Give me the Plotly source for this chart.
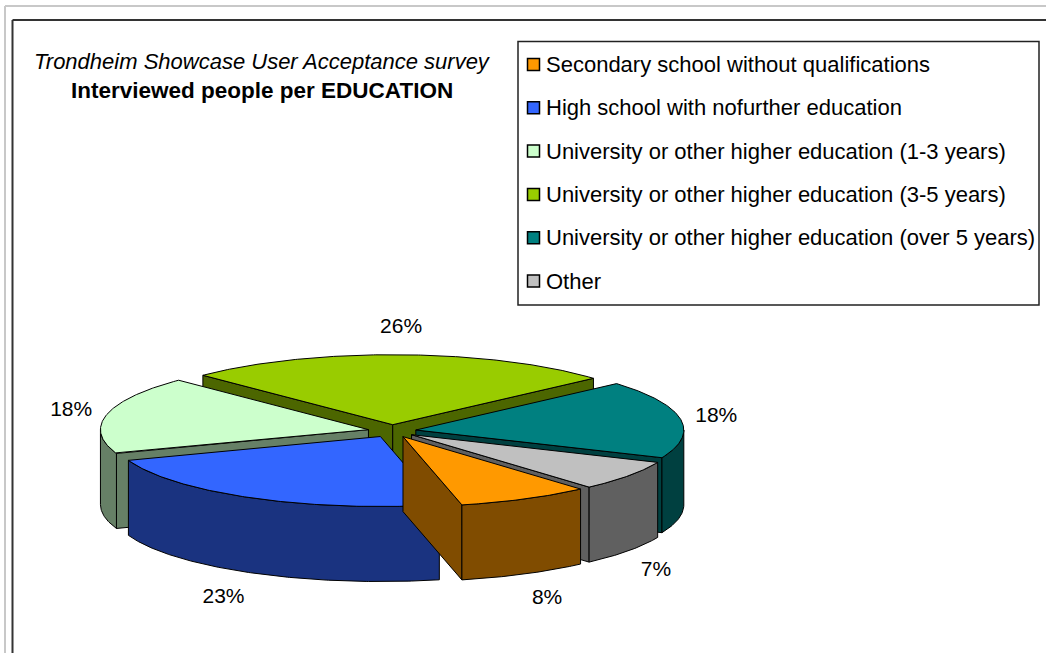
import numpy as np
import plotly.graph_objects as go

# ---- data -------------------------------------------------------------
categories = [
    "Secondary school without qualifications",
    "High school with nofurther education",
    "University or other higher education (1-3 years)",
    "University or other higher education (3-5 years)",
    "University or other higher education (over 5 years)",
    "Other",
]
shares = [8, 23, 18, 26, 18, 7]  # percent of interviewed people

title_line1 = "Trondheim Showcase User Acceptance survey"
title_line2 = "Interviewed people per EDUCATION"

# ---- styling ----------------------------------------------------------
top_colors = ["#FF9900", "#3366FF", "#CCFFCC", "#99CC00", "#008080", "#C0C0C0"]
side_colors = ["#804C00", "#1A3380", "#668066", "#4C6600", "#004040", "#606060"]

W, H = 1046, 653
FONT = "Liberation Sans, Arial, sans-serif"

# tilted pie geometry (pixel space)
CX, CY = 392, 431
RX, RY = 268, 70
DEPTH = 75
EXPLODE = 0.09
START = 138.5  # first slice angle, degrees clockwise from 12 o'clock


def rim(theta, ox, oy, dz=0.0):
    t = np.radians(theta)
    return CX + ox + RX * np.sin(t), CY + oy - RY * np.cos(t) + dz


def poly_trace(xs, ys, fill):
    return go.Scatter(
        x=list(xs), y=list(ys), mode="lines", fill="toself",
        fillcolor=fill, line=dict(color="#000000", width=1),
        hoverinfo="skip", showlegend=False,
    )


slices = []
acc = 0.0
for i, v in enumerate(shares):
    a = START + acc * 3.6
    b = a + v * 3.6
    acc += v
    m = (a + b) / 2
    ox = EXPLODE * RX * np.sin(np.radians(m))
    oy = -EXPLODE * RY * np.cos(np.radians(m))
    slices.append(dict(i=i, a=a, b=b, m=m, ox=ox, oy=oy))

fig = go.Figure()

# draw from the back of the pie to the front
for s in sorted(slices, key=lambda s: -np.cos(np.radians(s["m"]))):
    i, a, b, ox, oy = s["i"], s["a"], s["b"], s["ox"], s["oy"]
    cx0, cy0 = CX + ox, CY + oy

    # radial walls facing the viewer
    for ang, visible in ((a, np.sin(np.radians(a)) < 0), (b, np.sin(np.radians(b)) > 0)):
        if visible:
            px, py = rim(ang, ox, oy)
            fig.add_trace(poly_trace(
                [cx0, px, px, cx0, cx0],
                [cy0, py, py + DEPTH, cy0 + DEPTH, cy0],
                side_colors[i]))

    # outer curved wall on the front half
    for k in (-360, 0, 360):
        lo, hi = max(a, 90 + k), min(b, 270 + k)
        if hi > lo:
            th = np.linspace(lo, hi, max(3, int(hi - lo) * 2))
            tx, ty = rim(th, ox, oy)
            bx, by = rim(th[::-1], ox, oy, DEPTH)
            fig.add_trace(poly_trace(
                np.concatenate([tx, bx, tx[:1]]),
                np.concatenate([ty, by, ty[:1]]),
                side_colors[i]))

    # top face
    th = np.linspace(a, b, max(3, int(b - a) * 2))
    tx, ty = rim(th, ox, oy)
    fig.add_trace(poly_trace(
        np.concatenate([[cx0], tx, [cx0]]),
        np.concatenate([[cy0], ty, [cy0]]),
        top_colors[i]))

# percentage labels just outside each slice
lx, ly, lt, lpos = [], [], [], []
GAP_X, GAP_Y = 15, 16
for s in slices:
    m = np.radians(s["m"])
    sn, cs = np.sin(m), np.cos(m)
    px = CX + s["ox"] + (RX + GAP_X) * sn
    py = CY + s["oy"] - (RY + GAP_Y) * cs + (DEPTH if cs < 0 else 0)
    vert = "top" if cs > 0.7 else ("bottom" if cs < -0.3 else "middle")
    horiz = "right" if sn > 0.3 else ("left" if sn < -0.3 else "center")
    lx.append(px)
    ly.append(py)
    lt.append(f"{shares[s['i']]}%")
    lpos.append(f"{vert} {horiz}")

fig.add_trace(go.Scatter(
    x=lx, y=ly, mode="text", text=lt, textposition=lpos,
    textfont=dict(family=FONT, size=21, color="#000000"),
    hoverinfo="skip", showlegend=False,
))

# ---- frame -------------------------------------------------------------
shapes = [
    dict(type="line", x0=5, y0=6, x1=W, y1=6, line=dict(color="#c8c8c8", width=2)),
    dict(type="line", x0=5, y0=6, x1=5, y1=H, line=dict(color="#c8c8c8", width=2)),
    dict(type="line", x0=12.5, y0=20, x1=W, y1=20, line=dict(color="#333333", width=2)),
    dict(type="line", x0=12.5, y0=20, x1=12.5, y1=H, line=dict(color="#333333", width=2)),
]

# ---- legend box --------------------------------------------------------
LEG_X0, LEG_Y0, LEG_X1, LEG_Y1 = 518, 41.5, 1039, 305
ROW0, ROW_STEP = 64.5, 43.3
shapes.append(dict(type="rect", x0=LEG_X0, y0=LEG_Y0, x1=LEG_X1, y1=LEG_Y1,
                   line=dict(color="#222222", width=1.5), fillcolor="#ffffff",
                   layer="below"))
annotations = []
for i, name in enumerate(categories):
    yc = ROW0 + i * ROW_STEP
    shapes.append(dict(type="rect", x0=527.5, y0=yc - 6, x1=539.5, y1=yc + 6,
                       line=dict(color="#000000", width=1.5), fillcolor=top_colors[i]))
    annotations.append(dict(x=543.5, y=yc, xref="x", yref="y", text=name,
                            showarrow=False, xanchor="left", yanchor="middle",
                            font=dict(family=FONT, size=22, color="#000000")))

# ---- titles ------------------------------------------------------------
annotations.append(dict(x=262, y=61, xref="x", yref="y", text=f"<i>{title_line1}</i>",
                        showarrow=False, xanchor="center", yanchor="middle",
                        font=dict(family=FONT, size=22, color="#000000")))
annotations.append(dict(x=262, y=90, xref="x", yref="y", text=f"<b>{title_line2}</b>",
                        showarrow=False, xanchor="center", yanchor="middle",
                        font=dict(family=FONT, size=22.5, color="#000000")))

fig.update_layout(
    width=W, height=H, autosize=False,
    margin=dict(l=0, r=0, t=0, b=0),
    paper_bgcolor="#ffffff", plot_bgcolor="#ffffff",
    xaxis=dict(range=[0, W], visible=False, fixedrange=True),
    yaxis=dict(range=[H, 0], visible=False, fixedrange=True),
    shapes=shapes, annotations=annotations,
    showlegend=False,
)

fig.write_html("out.html")
